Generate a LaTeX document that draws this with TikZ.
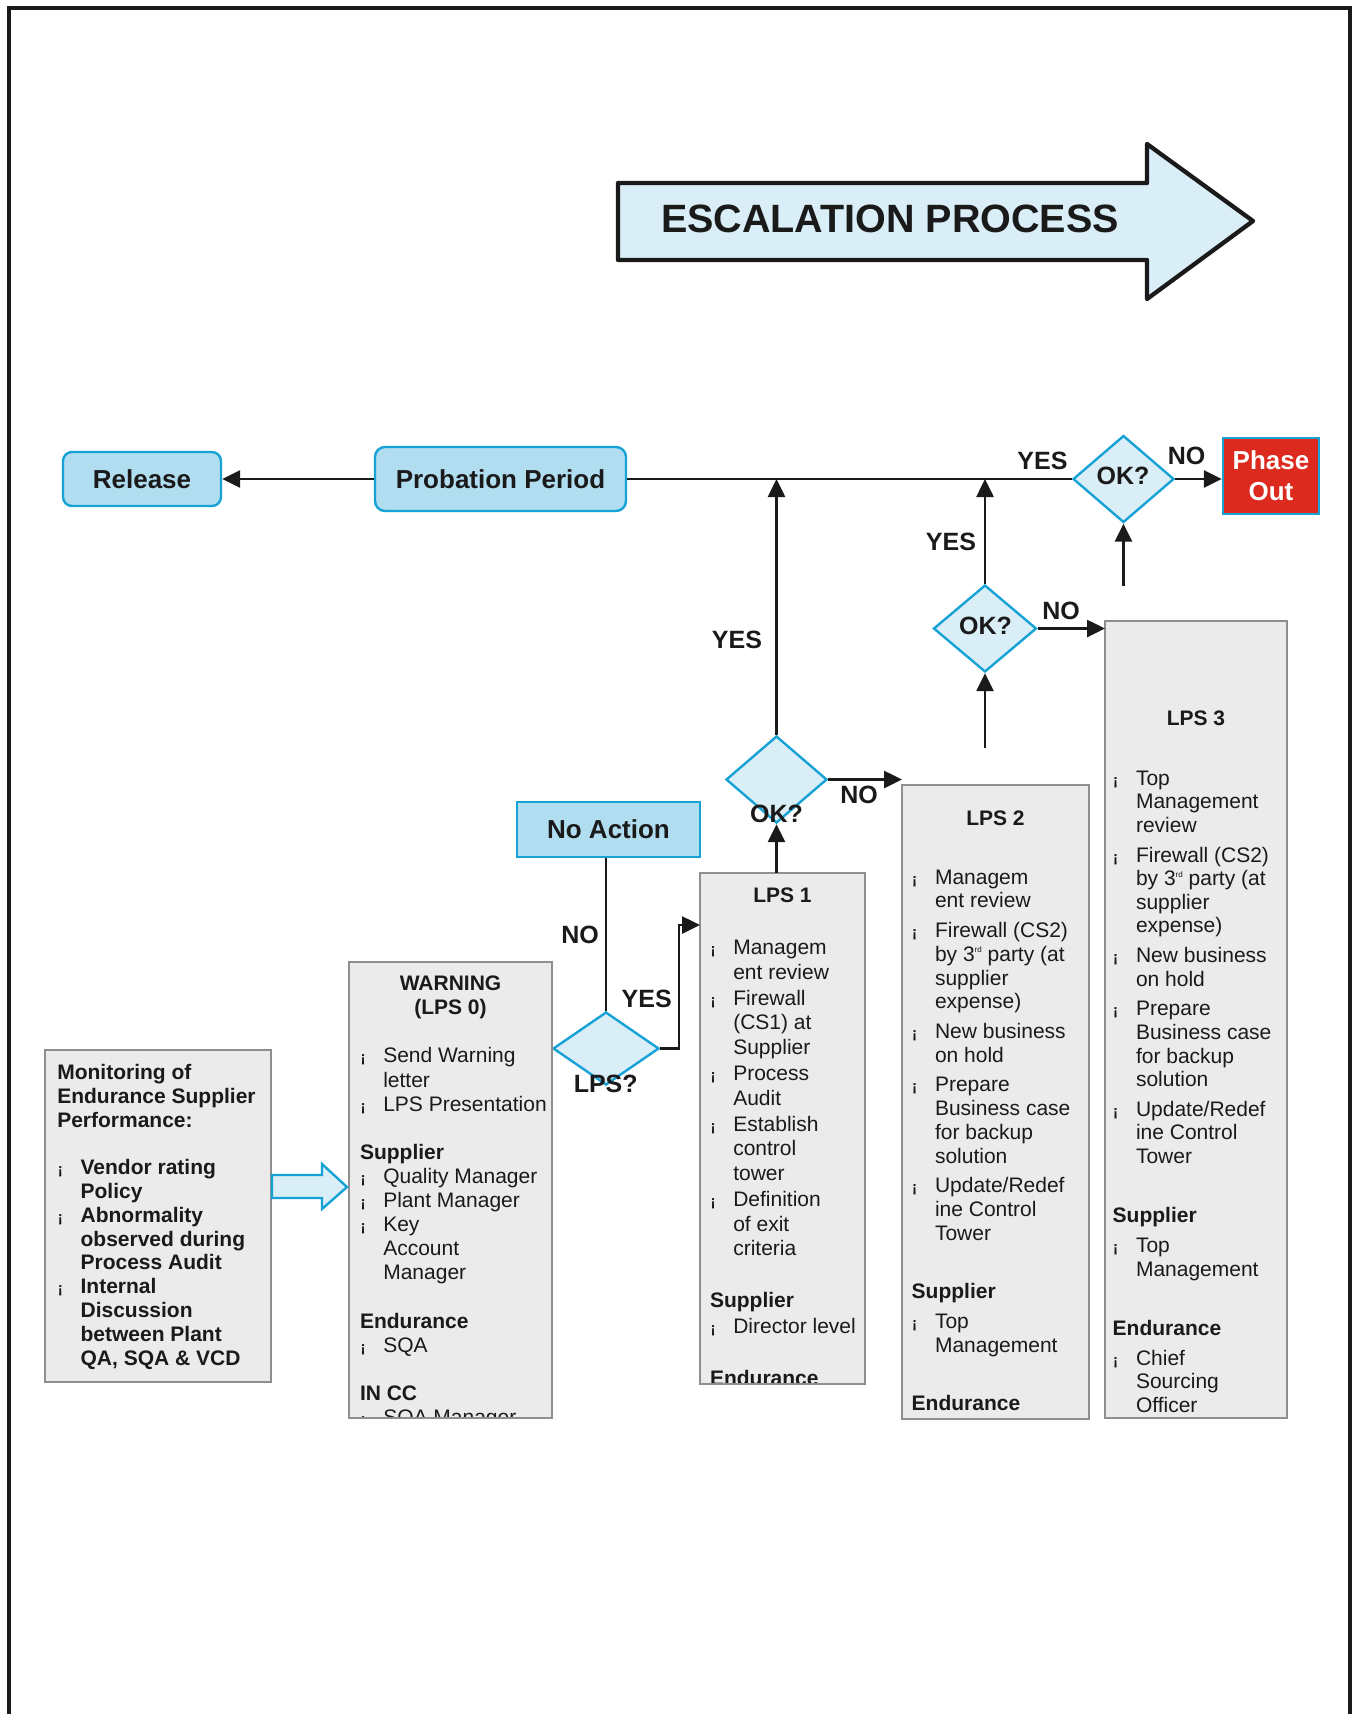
\documentclass[tikz,border=0pt]{standalone}
\usepackage{fontspec}
\setmainfont{Liberation Sans}
\usetikzlibrary{arrows.meta,shapes.geometric}
\definecolor{cyanb}{HTML}{17A2D6}
\definecolor{bluefill}{HTML}{B1DDF1}
\definecolor{dfill}{HTML}{DAEEF8}
\definecolor{gfill}{HTML}{EBEBEB}
\definecolor{gline}{HTML}{8F8F8F}
\definecolor{redfill}{HTML}{DC2A1E}
\definecolor{ink}{HTML}{1A1A1A}

\newcommand\bulg{{\fontsize{15}{12}\selectfont\bfseries ¡}}
\newcommand\itm[1]{\hangindent=23.3pt\hangafter=1\noindent\makebox[23.3pt][l]{\hspace{0.5pt}\bulg}#1\par}
\newcommand\hd[1]{\noindent\textbf{#1}\par}
\newcommand\blk{\noindent\mbox{}\par}
\newcommand\rdsup{\raisebox{8.5pt}{\fontsize{8}{8}\selectfont rd}}
\newcommand\boxtext[5]{\node[anchor=base west,inner sep=0pt,outer sep=0pt,text=ink] at (#1,#2) {\begin{minipage}[t]{300pt}\fontsize{21}{#3}\selectfont\setlength\parindent{0pt}\setlength\parskip{#4}#5\end{minipage}};}

\begin{document}
\begin{tikzpicture}[x=1pt,y=-1pt,
 conn/.style={draw=ink, line width=2.6pt},
 arr/.style={conn, -{Triangle[length=18pt,width=17pt]}},
 bluebox/.style={draw=cyanb, fill=bluefill, line width=2.4pt, inner sep=0pt, font=\fontsize{26}{31}\selectfont\bfseries, text=ink},
 dia/.style={diamond, draw=cyanb, fill=dfill, line width=2.4pt, inner sep=0pt},
 graybox/.style={draw=gline, fill=gfill, line width=2.6pt, inner sep=0pt, outer sep=0pt, anchor=north west},
 lab/.style={font=\fontsize{25}{30}\selectfont\bfseries, text=ink, inner sep=0pt},
 hdtext/.style={font=\fontsize{21}{25}\selectfont\bfseries, text=ink, inner sep=0pt, anchor=base}]
\useasboundingbox (0,0) rectangle (1356,1714);
\fill[white] (0,0) rectangle (1356,1714);
% frame
\draw[line width=4pt, draw=ink] (9,1714) -- (9,8) -- (1350,8) -- (1350,1714);

% title arrow
\draw[line width=4.3pt, draw=ink, fill=dfill, line join=round] (618,183) -- (1147,183) -- (1147,144) -- (1253,221) -- (1147,299) -- (1147,260) -- (618,260) -- cycle;
\node[font=\fontsize{39.5}{42}\selectfont\bfseries, text=ink, inner sep=0pt] (esc) at (890,219) {ESCALATION PROCESS};

% top row
\node[bluebox, rounded corners=9pt, minimum width=158pt, minimum height=54pt] (rel) at (142,479) {Release};
\node[bluebox, rounded corners=10pt, minimum width=251pt, minimum height=64pt] (prob) at (500.5,479) {Probation Period};
\node[dia, minimum width=101pt, minimum height=87pt] (ok3) at (1123.5,479) {};
\node[lab] (ok3t) at (1123,476) {OK?};
\node[draw=cyanb, fill=redfill, line width=2.4pt, inner sep=0pt, minimum width=96pt, minimum height=76pt, align=center, text=white, font=\fontsize{26}{31}\selectfont\bfseries] (phase) at (1271,476) {Phase\\Out};

\node[dia, minimum width=103pt, minimum height=87pt] (ok2) at (985,628.5) {};
\node[lab] (ok2t) at (985.5,626) {OK?};
\node[dia, minimum width=101pt, minimum height=87pt] (ok1) at (776.5,779.5) {};
\node[bluebox, minimum width=183pt, minimum height=55pt] (noact) at (608.5,829.5) {No Action};
\node[dia, minimum width=106pt, minimum height=73pt] (lpsq) at (606,1048.5) {};

% gray boxes
\node[graybox, minimum width=226pt, minimum height=332pt] (mon) at (45,1050) {};
\node[graybox, minimum width=203pt, minimum height=456pt] (warn) at (349,962) {};
\node[graybox, minimum width=165pt, minimum height=511pt] (lps1) at (700,873) {};
\node[graybox, minimum width=187pt, minimum height=634pt] (lps2) at (902,785) {};
\node[graybox, minimum width=182pt, minimum height=797pt] (lps3) at (1105,621) {};

% monitoring text
\begin{scope}
\clip ([shift={(1.3pt,1.3pt)}]mon.south west) rectangle ([shift={(-1.3pt,-1.3pt)}]mon.north east);
\boxtext{57.3}{1079.5}{23.8}{0pt}{\bfseries
Monitoring of\\Endurance Supplier\\Performance:\par
\blk
\itm{Vendor rating\\Policy}
\itm{Abnormality\\observed during\\Process Audit}
\itm{Internal\\Discussion\\between Plant\\QA, SQA \& VCD}}
\end{scope}

% warning text
\node[hdtext] (warnh1) at (450.5,990.6) {WARNING};
\node[hdtext] (warnh2) at (450.5,1014.7) {(LPS 0)};
\begin{scope}
\clip ([shift={(1.3pt,1.3pt)}]warn.south west) rectangle ([shift={(-1.3pt,-1.3pt)}]warn.north east);
\boxtext{360}{1062.9}{24.1}{0pt}{%
\itm{Send Warning\\letter}
\itm{LPS Presentation}
\blk
\hd{Supplier}
\itm{Quality Manager}
\itm{Plant Manager}
\itm{Key\\Account\\Manager}
\blk
\hd{Endurance}
\itm{SQA}
\blk
\hd{IN CC}
\itm{SQA Manager}}
\end{scope}

% LPS 1 text
\node[hdtext] (lps1h) at (782.5,902.3) {LPS 1};
\begin{scope}
\clip ([shift={(1.3pt,1.3pt)}]lps1.south west) rectangle ([shift={(-1.3pt,-1.3pt)}]lps1.north east);
\boxtext{710}{954.3}{24.7}{1.3pt}{%
\itm{Managem\\ent review}
\itm{Firewall\\(CS1) at\\Supplier}
\itm{Process\\Audit}
\itm{Establish\\control\\tower}
\itm{Definition\\of exit\\criteria}
\blk
\hd{Supplier}
\itm{Director level}
\blk
\hd{Endurance}}
\end{scope}

% LPS 2 text
\node[hdtext] (lps2h) at (995.5,825.4) {LPS 2};
\begin{scope}
\clip ([shift={(1.3pt,1.3pt)}]lps2.south west) rectangle ([shift={(-1.3pt,-1.3pt)}]lps2.north east);
\boxtext{911.7}{884}{23.9}{5.4pt}{%
\itm{Managem\\ent review}
\itm{Firewall (CS2)\\by 3\rdsup{} party (at\\supplier\\expense)}
\itm{New business\\on hold}
\itm{Prepare\\Business case\\for backup\\solution}
\itm{Update/Redef\\ine Control\\Tower}
\blk
\hd{Supplier}
\itm{Top\\Management}
\blk
\hd{Endurance}}
\end{scope}

% LPS 3 text
\node[hdtext] (lps3h) at (1196,725.7) {LPS 3};
\begin{scope}
\clip ([shift={(1.3pt,1.3pt)}]lps3.south west) rectangle ([shift={(-1.3pt,-1.3pt)}]lps3.north east);
\boxtext{1112.7}{785.1}{23.6}{6.1pt}{%
\itm{Top\\Management\\review}
\itm{Firewall (CS2)\\by 3\rdsup{} party (at\\supplier\\expense)}
\itm{New business\\on hold}
\itm{Prepare\\Business case\\for backup\\solution}
\itm{Update/Redef\\ine Control\\Tower}
\blk
\hd{Supplier}
\itm{Top\\Management}
\blk
\hd{Endurance}
\itm{Chief\\Sourcing\\Officer}}
\end{scope}

% block arrow monitoring -> warning
\draw[draw=cyanb, fill=dfill, line width=2.4pt, line join=miter] (272,1175) -- (322,1175) -- (322,1164) -- (347,1187) -- (322,1209) -- (322,1198) -- (272,1198) -- cycle;

% connectors
\coordinate (lps2up) at (985,748);
\coordinate (lps3up) at (1123.5,586);
\coordinate (bend) at (679,925);
\draw[arr] (prob.west) -- (rel.east);
\draw[conn] (prob.east) -- (ok3.west);
\draw[arr] (ok3.east) -- (phase.west |- ok3.east);
\draw[arr] (lps3up) -- (ok3.south);
\draw[arr] (ok2.north) -- (ok2.north |- prob.east);
\draw[arr] (ok2.east) -- (lps3.west |- ok2.east);
\draw[arr] (lps2up) -- (ok2.south);
\draw[arr] (ok1.north) -- (ok1.north |- prob.east);
\draw[arr] (ok1.east) -- (lps2.west |- ok1.east);
\draw[arr] (ok1.south |- lps1.north) -- (ok1.south);
\draw[conn] (lpsq.north) -- (lpsq.north |- noact.south);
\draw[arr] (lpsq.east) -| (bend) -- (lps1.west |- bend);

% connector labels
\node[lab] (y3) at (1042.5,461) {YES};
\node[lab] (n3) at (1186.5,456) {NO};
\node[lab] (y2) at (951,542) {YES};
\node[lab] (n2) at (1061,611) {NO};
\node[lab] (y1) at (737,640) {YES};
\node[lab] (n1) at (859,795) {NO};
\node[lab] (nq) at (580,935) {NO};
\node[lab] (yq) at (646.7,998.5) {YES};
\node[lab] (ok1t) at (776.5,814) {OK?};
\node[lab] (lpsqt) at (605.7,1083.5) {LPS?};
\end{tikzpicture}
\end{document}
